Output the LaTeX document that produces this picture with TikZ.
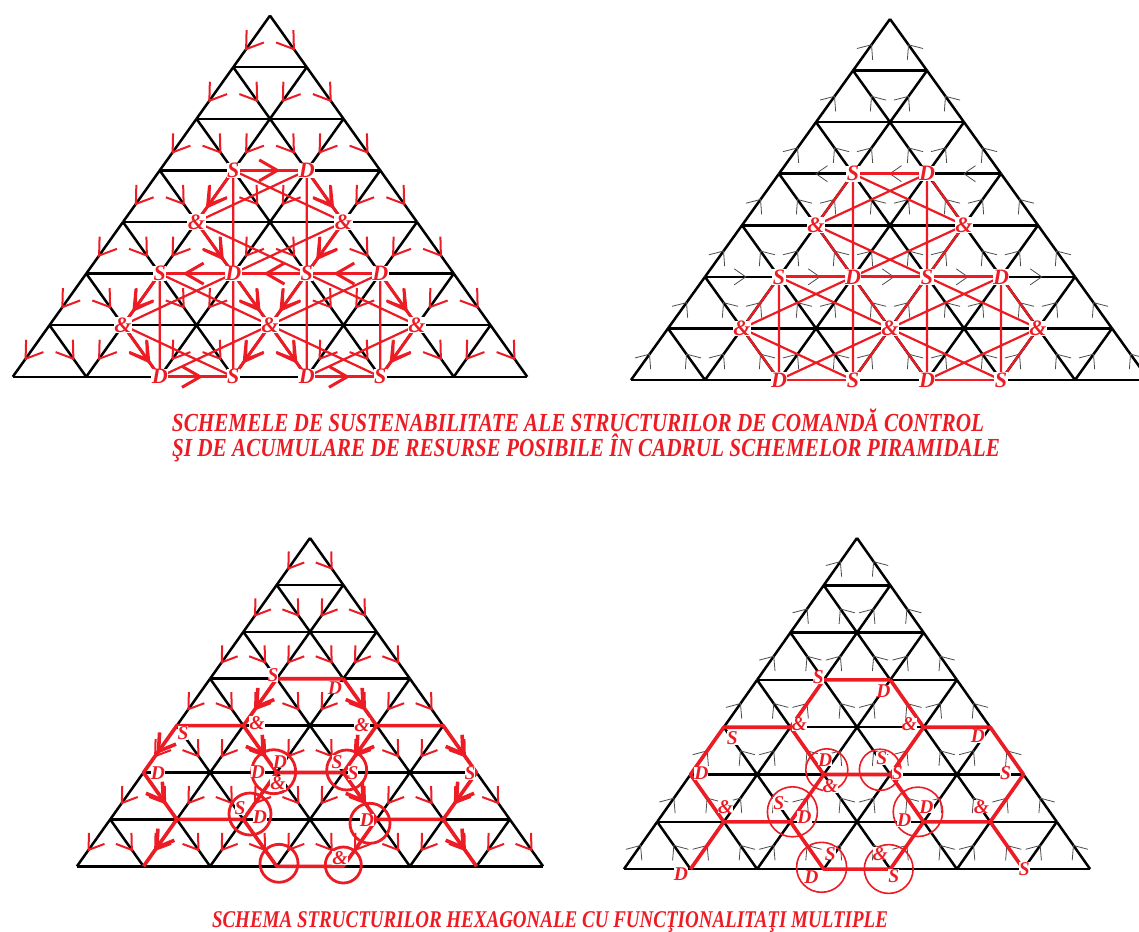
\documentclass[tikz,border=0pt]{standalone}
\usepackage{fontspec}
\setmainfont{Liberation Serif}
\usepackage{graphicx}
\usetikzlibrary{calc}
\definecolor{pr}{RGB}{237,28,36}
\tikzset{
 lat/.style={black,line width=2.5pt},
 rtick/.style={pr,line width=2pt},
 btick/.style={black!70,line width=0.8pt},
 rthick/.style={pr,line width=3pt},
 rstar/.style={pr,line width=2.2pt},
 rpath/.style={pr,line width=3.6pt},
 rcirc/.style={pr,line width=2.8pt},
 rcircthin/.style={pr,line width=1.6pt},
 lab/.style={text=pr,font=\bfseries\itshape\fontsize{22}{22}\selectfont,fill=white,inner sep=0.5pt},
 labs/.style={text=pr,font=\bfseries\itshape\fontsize{19.5}{19.5}\selectfont,fill=white,inner sep=0pt},
 capt/.style={text=pr,font=\bfseries\itshape\fontsize{26}{26}\selectfont,inner sep=0pt,anchor=base},
}
\newcommand\mklat[6]{%
 \foreach \i in {0,...,7}{\foreach \j in {0,...,\i}{\coordinate (#1-\i-\j) at ({#2+(2*\j-\i)*#4},{#3+\i*#5});}}
 \foreach \i in {0,...,6}{\foreach \j in {0,...,\i}{\pgfmathtruncatemacro\ii{\i+1}\pgfmathtruncatemacro\jj{\j+1}\draw[#6] (#1-\i-\j)--(#1-\ii-\j) (#1-\i-\j)--(#1-\ii-\jj);}}
 \foreach \i in {1,...,7}{\draw[#6] (#1-\i-0)--(#1-\i-\i);}
}
\newcommand\tick[6]{\coordinate (tk) at ($(#1)!#3!(#2)$);\draw[#6] ($(tk)!#4!#5:(#1)$)--(tk)--($(tk)!#4!-#5:(#1)$);}
\newcommand\ticksdown[5]{%
 \foreach \i in {0,...,6}{\foreach \j in {0,...,\i}{\pgfmathtruncatemacro\ii{\i+1}\pgfmathtruncatemacro\jj{\j+1}%
 \tick{#1-\i-\j}{#1-\ii-\j}{#2}{#3}{#4}{#5}\tick{#1-\i-\j}{#1-\ii-\jj}{#2}{#3}{#4}{#5}}}}
\newcommand\ticksup[5]{%
 \foreach \i in {0,...,6}{\foreach \j in {0,...,\i}{\pgfmathtruncatemacro\ii{\i+1}\pgfmathtruncatemacro\jj{\j+1}%
 \tick{#1-\ii-\j}{#1-\i-\j}{#2}{#3}{#4}{#5}\tick{#1-\ii-\jj}{#1-\i-\j}{#2}{#3}{#4}{#5}}}}
\newcommand\tarr[4]{\draw[#4] (#1)--(#2);\tick{#1}{#2}{#3}{21pt}{30}{#4}}
\newcommand\sdavid[6]{\draw[rstar,line join=round] (#1)--(#3)--(#5)--cycle (#2)--(#4)--(#6)--cycle;}
\newcommand\redpart[2]{\draw[rstar] ($(#1)!0.15!(#2)$)--($(#1)!0.85!(#2)$);}
\begin{document}
\begin{tikzpicture}[x=1pt,y=-1pt]
\useasboundingbox (0,0) rectangle (1139,931);
\fill[white] (0,0) rectangle (1139,931);
% ================= FIGURE 1 (top left)
\mklat{A}{270}{15.6}{36.75}{51.6}{lat}
\ticksdown{A}{0.65}{19pt}{34}{rtick}
\sdavid{A-3-1}{A-3-2}{A-4-3}{A-5-3}{A-5-2}{A-4-1}
\sdavid{A-5-1}{A-5-2}{A-6-3}{A-7-3}{A-7-2}{A-6-1}
\sdavid{A-5-3}{A-5-4}{A-6-5}{A-7-5}{A-7-4}{A-6-3}
\tarr{A-3-1}{A-4-1}{0.7}{rthick}\tarr{A-3-2}{A-4-3}{0.7}{rthick}
\tarr{A-4-1}{A-5-2}{0.7}{rthick}\tarr{A-4-3}{A-5-3}{0.7}{rthick}
\tarr{A-5-1}{A-6-1}{0.7}{rthick}\tarr{A-5-2}{A-6-3}{0.7}{rthick}
\tarr{A-6-1}{A-7-2}{0.7}{rthick}\tarr{A-6-3}{A-7-3}{0.7}{rthick}
\tarr{A-5-3}{A-6-3}{0.7}{rthick}\tarr{A-5-4}{A-6-5}{0.7}{rthick}
\tarr{A-6-3}{A-7-4}{0.7}{rthick}\tarr{A-6-5}{A-7-5}{0.7}{rthick}
\tarr{A-3-1}{A-3-2}{0.6}{rthick}\tarr{A-5-2}{A-5-1}{0.65}{rthick}
\tarr{A-5-3}{A-5-2}{0.55}{rthick}\tarr{A-5-4}{A-5-3}{0.6}{rthick}
\tarr{A-7-2}{A-7-3}{0.55}{rthick}\tarr{A-7-4}{A-7-5}{0.55}{rthick}
\node[lab] (a1) at (A-3-1) {S};\node[lab] (a2) at (A-3-2) {D};
\node[lab] (a3) at (A-4-1) {\&};\node[lab] (a4) at (A-4-3) {\&};
\node[lab] (a5) at (A-5-1) {S};\node[lab] (a6) at (A-5-2) {D};
\node[lab] (a7) at (A-5-3) {S};\node[lab] (a8) at (A-5-4) {D};
\node[lab] (a9) at (A-6-1) {\&};\node[lab] (a10) at (A-6-3) {\&};\node[lab] (a11) at (A-6-5) {\&};
\node[lab] (a12) at (A-7-2) {D};\node[lab] (a13) at (A-7-3) {S};
\node[lab] (a14) at (A-7-4) {D};\node[lab] (a15) at (A-7-5) {S};
% ================= FIGURE 2 (top right)
\mklat{B}{890}{19}{37}{51.57}{lat}
\ticksup{B}{0.5}{15pt}{40}{btick}
\tick{B-3-1}{B-3-0}{0.5}{14pt}{35}{btick}\tick{B-3-2}{B-3-1}{0.5}{14pt}{35}{btick}\tick{B-3-3}{B-3-2}{0.5}{14pt}{35}{btick}
\tick{B-5-0}{B-5-1}{0.55}{14pt}{35}{btick}\tick{B-5-1}{B-5-2}{0.55}{14pt}{35}{btick}\tick{B-5-2}{B-5-3}{0.55}{14pt}{35}{btick}
\tick{B-5-3}{B-5-4}{0.55}{14pt}{35}{btick}\tick{B-5-4}{B-5-5}{0.55}{14pt}{35}{btick}
\sdavid{B-3-1}{B-3-2}{B-4-3}{B-5-3}{B-5-2}{B-4-1}
\sdavid{B-5-1}{B-5-2}{B-6-3}{B-7-3}{B-7-2}{B-6-1}
\sdavid{B-5-3}{B-5-4}{B-6-5}{B-7-5}{B-7-4}{B-6-3}
\redpart{B-3-1}{B-4-1}\redpart{B-3-2}{B-4-3}\redpart{B-4-1}{B-5-2}\redpart{B-4-3}{B-5-3}
\redpart{B-5-1}{B-6-1}\redpart{B-5-2}{B-6-3}\redpart{B-6-1}{B-7-2}\redpart{B-6-3}{B-7-3}
\redpart{B-5-3}{B-6-3}\redpart{B-5-4}{B-6-5}\redpart{B-6-3}{B-7-4}\redpart{B-6-5}{B-7-5}
\draw[rstar,line width=2.8pt] (B-3-1)--(B-3-2) (B-5-1)--(B-5-4) (B-7-2)--(B-7-3) (B-7-4)--(B-7-5);
\node[lab] (b1) at (B-3-1) {S};\node[lab] (b2) at (B-3-2) {D};
\node[lab] (b3) at (B-4-1) {\&};\node[lab] (b4) at (B-4-3) {\&};
\node[lab] (b5) at (B-5-1) {S};\node[lab] (b6) at (B-5-2) {D};
\node[lab] (b7) at (B-5-3) {S};\node[lab] (b8) at (B-5-4) {D};
\node[lab] (b9) at (B-6-1) {\&};\node[lab] (b10) at (B-6-3) {\&};\node[lab] (b11) at (B-6-5) {\&};
\node[lab] (b12) at (B-7-2) {D};\node[lab] (b13) at (B-7-3) {S};
\node[lab] (b14) at (B-7-4) {D};\node[lab] (b15) at (B-7-5) {S};
% ================= FIGURE 3 (bottom left)
\mklat{C}{310}{538}{33.3}{46.9}{lat}
\ticksdown{C}{0.65}{17pt}{34}{rtick}
\draw[rpath,line join=round] (C-3-2)--(C-3-1)--(C-4-1)--(C-4-0)--(C-5-0)--(C-6-1)--(C-7-1);
\draw[rpath,line join=round] (C-6-1)--(C-6-2)--(C-7-3)--(C-7-4)--(C-6-4)--(C-6-5)--(C-7-6);
\draw[rpath,line join=round] (C-4-1)--(C-5-2)--(C-5-3)--(C-6-4) (C-5-2)--(C-6-2);
\draw[rpath,line join=round] (C-3-2)--(C-4-3)--(C-5-3) (C-4-3)--(C-4-4)--(C-5-5)--(C-6-5);
\tick{C-3-1}{C-4-1}{0.6}{19pt}{32}{rpath}\tick{C-4-0}{C-5-0}{0.55}{19pt}{32}{rpath}
\tick{C-5-0}{C-6-1}{0.6}{19pt}{32}{rpath}\tick{C-6-1}{C-7-1}{0.6}{19pt}{32}{rpath}
\tick{C-4-1}{C-5-2}{0.6}{19pt}{32}{rpath}\tick{C-3-2}{C-4-3}{0.6}{19pt}{32}{rpath}
\tick{C-4-3}{C-5-3}{0.6}{19pt}{32}{rpath}\tick{C-4-4}{C-5-5}{0.6}{19pt}{32}{rpath}
\tick{C-5-5}{C-6-5}{0.6}{19pt}{32}{rpath}\tick{C-6-5}{C-7-6}{0.6}{19pt}{32}{rpath}
\tick{C-5-3}{C-6-4}{0.6}{19pt}{32}{rpath}
\draw[rcirc] (273.7,771.7) circle (22) (346.7,770) circle (20) (250,814) circle (21)
  (279,863.3) circle (19) (343.3,865) circle (18) (370,823.3) circle (20);
\node[labs] (c1) at (273,675) {S};\node[labs] (c2) at (335,688) {D};
\node[labs] (c3) at (257,723) {\&};\node[labs] (c4) at (362,725) {\&};
\node[labs] (c5) at (183,733) {S};\node[labs] (c6) at (158,773) {D};
\node[labs] (c7) at (258,772) {D};\node[labs] (c8) at (280,762) {D};
\node[labs] (c9) at (278,783) {\&};\node[labs] (c10) at (337,762) {S};
\node[labs] (c11) at (353,773) {S};\node[labs] (c12) at (470,773) {S};
\node[labs] (c13) at (240,808) {S};\node[labs] (c14) at (260,817) {D};
\node[labs] (c15) at (367,820) {D};\node[labs] (c16) at (340,858) {\&};
% ================= FIGURE 4 (bottom right)
\mklat{D}{857}{538}{33.3}{47.3}{lat}
\ticksup{D}{0.5}{15pt}{40}{btick}
\draw[rpath,line join=round] (D-3-2)--(D-3-1)--(D-4-1)--(D-4-0)--(D-5-0)--(D-6-1)--(D-7-1);
\draw[rpath,line join=round] (D-6-1)--(D-6-2)--(D-7-3)--(D-7-4)--(D-6-4)--(D-6-5)--(D-7-6);
\draw[rpath,line join=round] (D-4-1)--(D-5-2)--(D-5-3)--(D-6-4) (D-5-2)--(D-6-2);
\draw[rpath,line join=round] (D-3-2)--(D-4-3)--(D-5-3) (D-4-3)--(D-4-4)--(D-5-5)--(D-6-5);
\draw[rcircthin] (826.8,769.8) circle (21) (880,769.8) circle (20.6) (792.4,811.8) circle (25)
  (917.9,811.8) circle (24.7) (821.6,867.3) circle (25) (888.7,869) circle (24.4);
\node[labs] (d1) at (818.2,677.4) {S};\node[labs] (d2) at (883.5,690.9) {D};
\node[labs] (d3) at (799.3,724.5) {\&};\node[labs] (d4) at (909.3,724.5) {\&};
\node[labs] (d5) at (732.3,738) {S};\node[labs] (d6) at (978,736.2) {D};
\node[labs] (d7) at (701.4,773.2) {D};\node[labs] (d8) at (825.1,759.8) {D};
\node[labs] (d9) at (830.2,786.6) {\&};\node[labs] (d10) at (881.8,758.1) {S};
\node[labs] (d11) at (897.3,773.2) {S};\node[labs] (d12) at (1005.5,773.2) {S};
\node[labs] (d13) at (725.4,806.8) {\&};\node[labs] (d14) at (778.7,803.4) {S};
\node[labs] (d15) at (804.5,816.9) {D};\node[labs] (d16) at (926.5,806.8) {D};
\node[labs] (d17) at (904.1,820.2) {D};\node[labs] (d18) at (981.4,806.8) {\&};
\node[labs] (d19) at (680.8,874) {D};\node[labs] (d20) at (830.2,853.8) {S};
\node[labs] (d21) at (811.3,877.4) {D};\node[labs] (d22) at (880.1,853.8) {\&};
\node[labs] (d23) at (893.8,875.7) {S};\node[labs] (d24) at (1024.4,869) {S};
% ================= captions
\node[capt] (t1) at (578,431) {\resizebox{812pt}{\height}{SCHEMELE DE SUSTENABILITATE ALE STRUCTURILOR DE COMANDĂ CONTROL}};
\node[capt] (t2) at (586,456) {\resizebox{828pt}{\height}{ŞI DE ACUMULARE DE RESURSE POSIBILE ÎN CADRUL SCHEMELOR PIRAMIDALE}};
\node[capt,font=\bfseries\itshape\fontsize{24}{24}\selectfont] (t3) at (550,927) {\resizebox{676pt}{\height}{SCHEMA STRUCTURILOR HEXAGONALE CU FUNCŢIONALITAŢI MULTIPLE}};
\end{tikzpicture}
\end{document}
